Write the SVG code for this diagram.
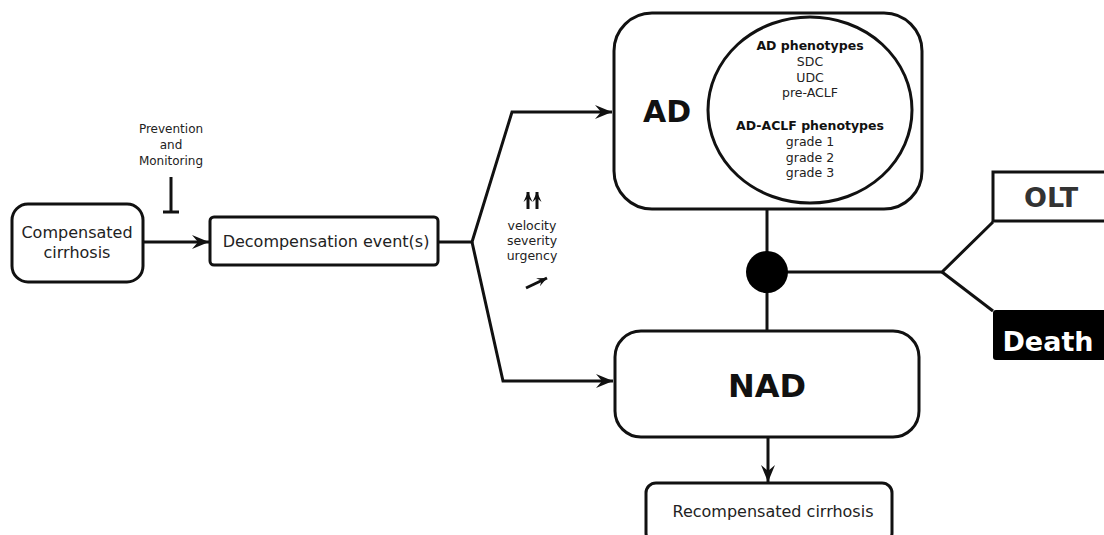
<svg xmlns="http://www.w3.org/2000/svg" width="1104" height="535" viewBox="0 0 1104 535">
<style>
.box{fill:#fff;stroke:#111;stroke-width:3}
.ln{fill:none;stroke:#111;stroke-width:3}
.t{font-family:"DejaVu Sans","Liberation Sans",sans-serif;fill:#222;text-anchor:middle}
.b{font-weight:bold;fill:#111}
</style>
<defs>
<marker id="arr" markerUnits="userSpaceOnUse" markerWidth="20" markerHeight="16" viewBox="-18 -8 20 16" refX="0" refY="0" orient="auto">
<path d="M0,0 L-17,-7 L-11,0 L-17,7 Z" fill="#111"/>
</marker>
<marker id="sm" markerUnits="userSpaceOnUse" markerWidth="12" markerHeight="12" viewBox="-10 -6 12 12" refX="0" refY="0" orient="auto">
<path d="M0,0 L-10,-4.5 L-6,0 L-10,4.5 Z" fill="#111"/>
</marker>
</defs>
<g id="connectors">
<line class="ln" x1="143" y1="242" x2="209" y2="242" marker-end="url(#arr)"/>
<line class="ln" stroke-width="1.5" x1="171" y1="177" x2="171" y2="212"/>
<line class="ln" stroke-width="1.5" x1="163" y1="212" x2="179" y2="212"/>
<polyline class="ln" points="438,242 472,242 512,112 612,112" marker-end="url(#arr)"/>
<polyline class="ln" points="472,242 503,381 613,381" marker-end="url(#arr)"/>
<line class="ln" x1="767" y1="209" x2="767" y2="331"/>
<polyline class="ln" points="767,272 942,272 993,222"/>
<line class="ln" x1="942" y1="272" x2="993" y2="311"/>
<line class="ln" x1="768" y1="437" x2="768" y2="482" marker-end="url(#arr)"/>
<circle cx="767" cy="272" r="21" fill="#000"/>
</g>
<g id="compensated">
<rect class="box" x="12" y="204" width="131" height="78" rx="16"/>
<text class="t" x="77" y="238" font-size="16">Compensated</text>
<text class="t" x="77" y="258" font-size="16">cirrhosis</text>
</g>
<g id="prevention">
<text class="t" x="171" y="133" font-size="12">Prevention</text>
<text class="t" x="171" y="149" font-size="12">and</text>
<text class="t" x="171" y="165" font-size="12">Monitoring</text>
</g>
<g id="decompensation">
<rect class="box" x="210" y="217" width="228" height="48" rx="4" stroke-width="2.5"/>
<text class="t" x="326" y="247" font-size="16">Decompensation event(s)</text>
</g>
<g id="modifiers">
<line class="ln" stroke-width="1.6" x1="528" y1="209" x2="528" y2="192" marker-end="url(#sm)"/>
<line class="ln" stroke-width="1.6" x1="537" y1="209" x2="537" y2="192" marker-end="url(#sm)"/>
<text class="t" x="532" y="230" font-size="12.5">velocity</text>
<text class="t" x="532" y="245" font-size="12.5">severity</text>
<text class="t" x="532" y="260" font-size="12.5">urgency</text>
<line class="ln" stroke-width="1.8" x1="526" y1="288" x2="547" y2="278" marker-end="url(#sm)"/>
</g>
<g id="AD">
<rect class="box" x="614" y="13" width="308" height="196" rx="38"/>
<text class="t b" x="667" y="122" font-size="30">AD</text>
<ellipse cx="810" cy="110" rx="102" ry="93" fill="#fff" stroke="#111" stroke-width="3"/>
<text class="t b" x="810" y="50" font-size="12.5">AD phenotypes</text>
<text class="t" x="810" y="66" font-size="12.5">SDC</text>
<text class="t" x="810" y="82" font-size="12.5">UDC</text>
<text class="t" x="810" y="97" font-size="12.5">pre-ACLF</text>
<text class="t b" x="810" y="130" font-size="12.5">AD-ACLF phenotypes</text>
<text class="t" x="810" y="146" font-size="12.5">grade 1</text>
<text class="t" x="810" y="162" font-size="12.5">grade 2</text>
<text class="t" x="810" y="177" font-size="12.5">grade 3</text>
</g>
<g id="NAD">
<rect class="box" x="615" y="331" width="304" height="106" rx="26"/>
<text class="t b" x="767" y="397" font-size="32">NAD</text>
</g>
<g id="recompensated">
<rect class="box" x="646" y="483" width="246" height="60" rx="10"/>
<text class="t" x="773" y="517" font-size="16">Recompensated cirrhosis</text>
</g>
<g id="OLT">
<rect class="box" x="993" y="172" width="130" height="49" stroke-width="2.5"/>
<text class="t b" x="1051" y="207" font-size="27" style="fill:#333">OLT</text>
</g>
<g id="Death">
<rect x="993" y="310" width="130" height="50" rx="3" fill="#000"/>
<text class="t b" x="1048" y="351" font-size="27" style="fill:#fff">Death</text>
</g>
</svg>
